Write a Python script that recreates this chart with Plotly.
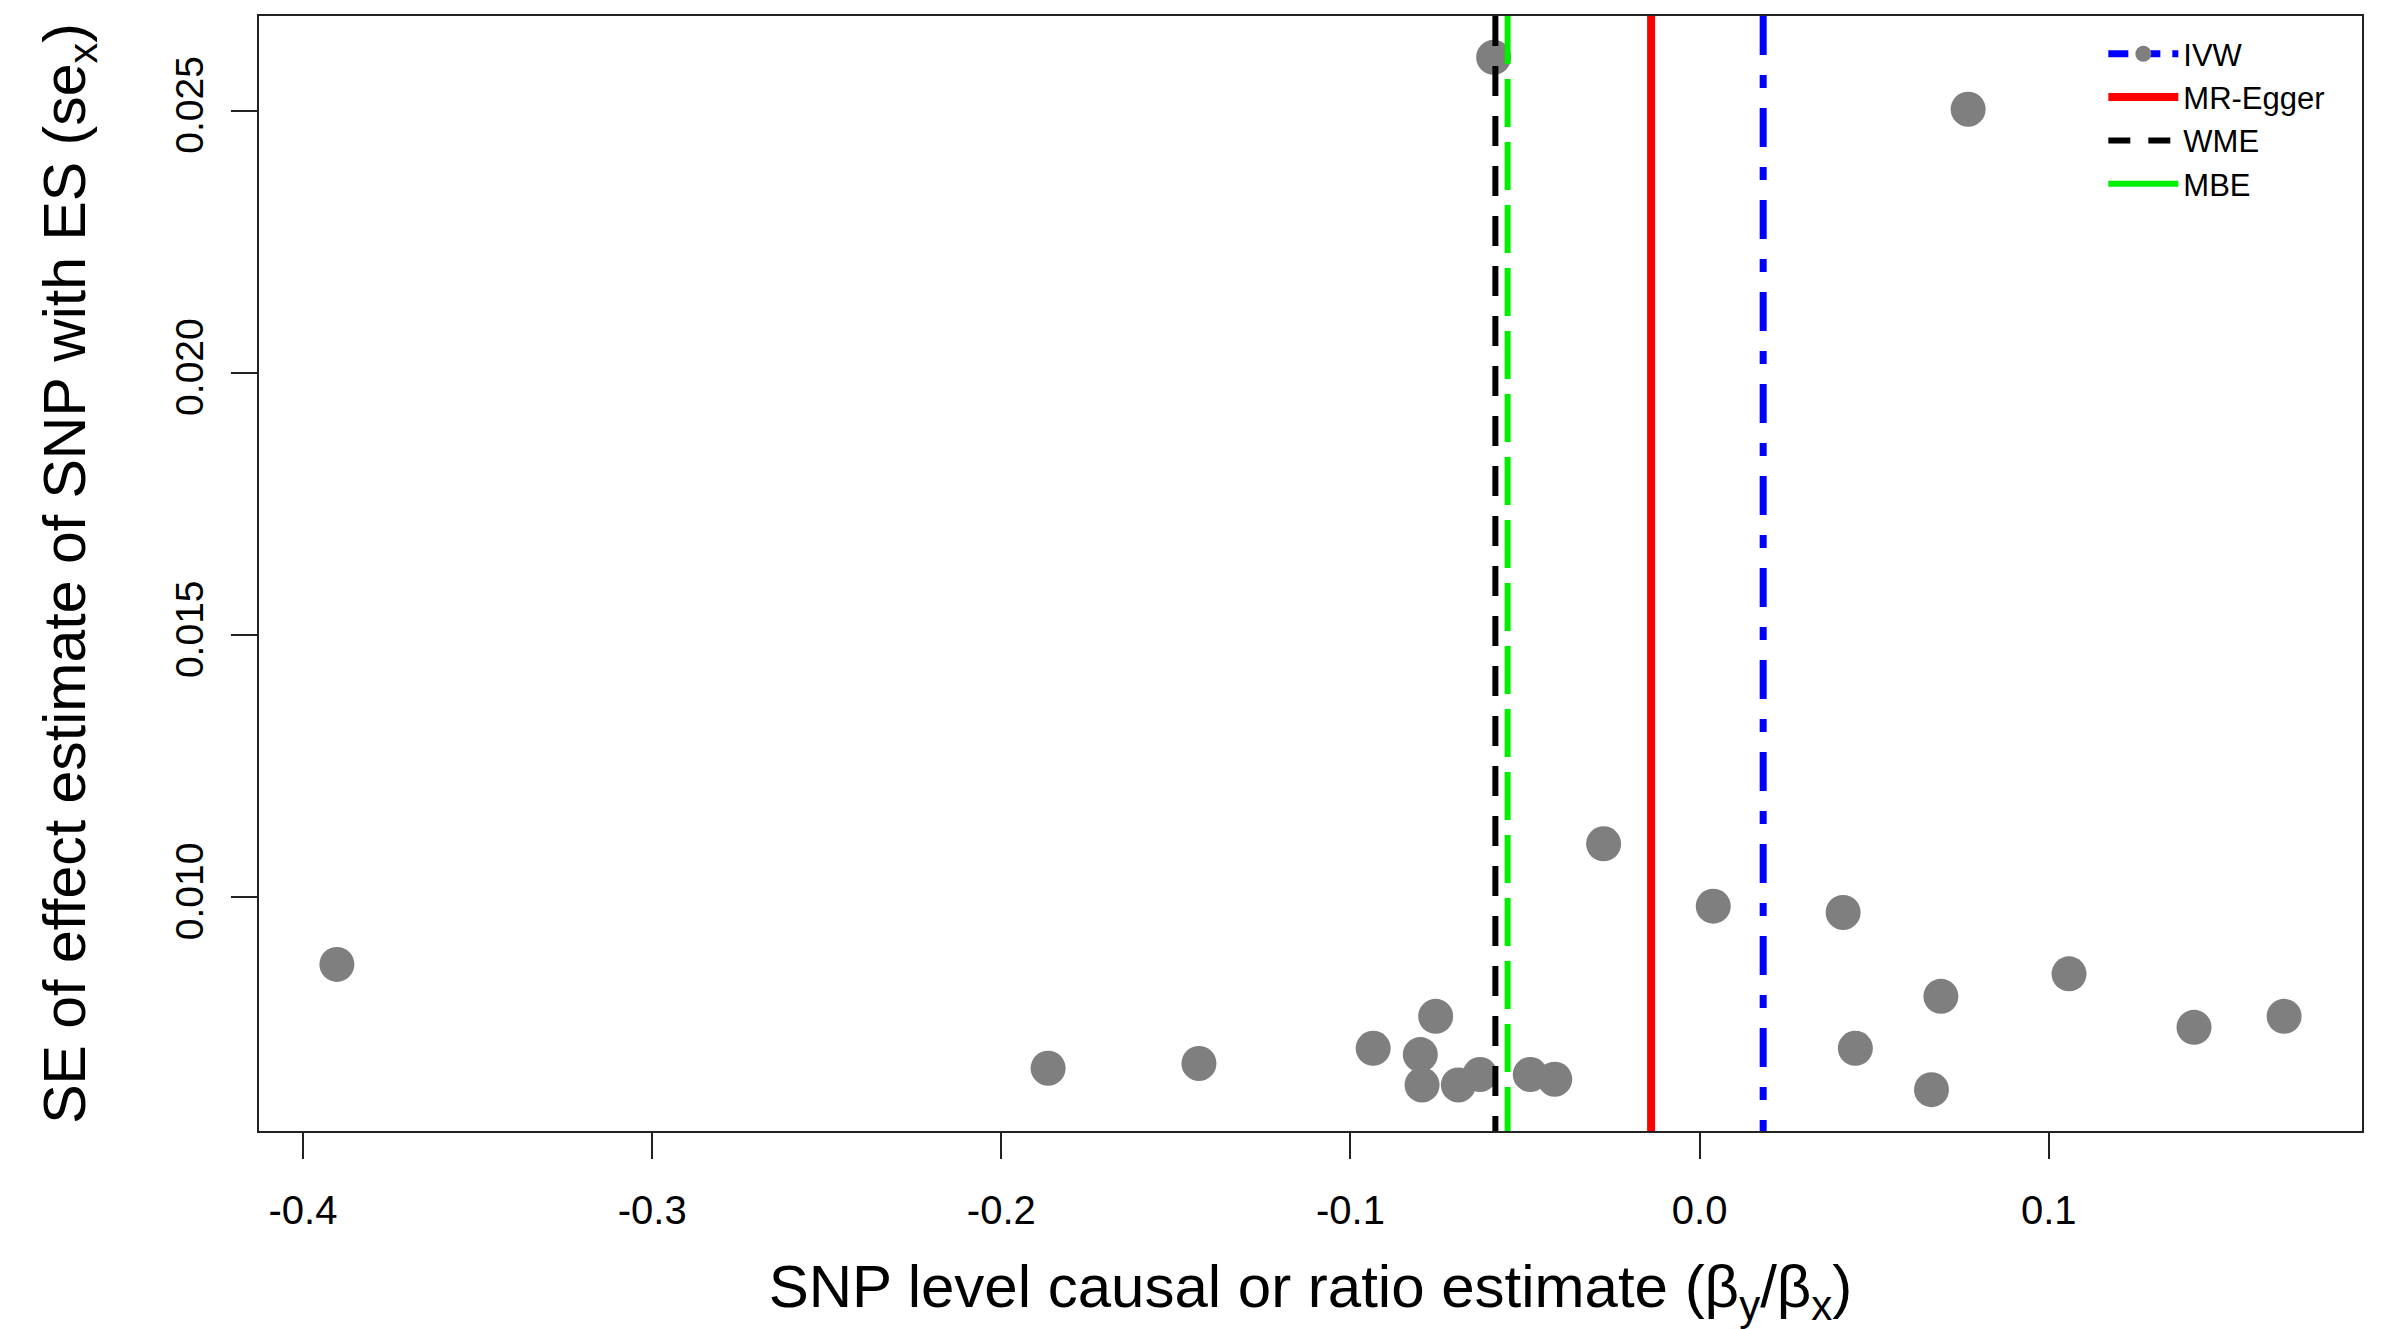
import plotly.graph_objects as go

# ---- data ----
ratio_est = [-0.3903, -0.1866, -0.1434, -0.0935, -0.0800, -0.0756, -0.0795, -0.0691,
             -0.0629, -0.0590, -0.0485, -0.0415, -0.0275, 0.0039, 0.0411, 0.0446,
             0.0664, 0.0691, 0.0769, 0.1058, 0.1416, 0.1674]
se_x = [0.00872, 0.00674, 0.00683, 0.00712, 0.00700, 0.00773, 0.00642, 0.00642,
        0.00662, 0.02602, 0.00662, 0.00653, 0.01102, 0.00983, 0.00971, 0.00712,
        0.00633, 0.00811, 0.02503, 0.00854, 0.00752, 0.00773]

method_names = ["IVW", "MR-Egger", "WME", "MBE"]
method_estimates = [0.0182, -0.0139, -0.0585, -0.0550]

x_tick_vals = [-0.4, -0.3, -0.2, -0.1, 0.0, 0.1]
x_tick_text = ["-0.4", "-0.3", "-0.2", "-0.1", "0.0", "0.1"]
y_tick_vals = [0.010, 0.015, 0.020, 0.025]
y_tick_text = ["0.010", "0.015", "0.020", "0.025"]

# ---- styles ----
method_colors = {"IVW": "#0000FF", "MR-Egger": "#FF0000", "WME": "#000000", "MBE": "#00EE00"}
method_dash = {"IVW": "39px,20px,13px,20px", "MR-Egger": "solid", "WME": "30px,20px", "MBE": "48px,15px"}
method_width = {"IVW": 7, "MR-Egger": 8, "WME": 6, "MBE": 6}
legend_dash = {"IVW": "20px,12px", "MR-Egger": "solid", "WME": "22px,18px", "MBE": "solid"}
FONT = "Liberation Sans, Arial, Helvetica, sans-serif"

# R-style axis ranges (4% expansion)
def rrange(v):
    lo, hi = min(v), max(v)
    d = (hi - lo) * 0.04
    return [lo - d, hi + d]

xr = rrange(ratio_est)
yr = rrange(se_x)

fig = go.Figure()

fig.add_trace(go.Scatter(
    x=ratio_est, y=se_x, mode="markers",
    marker=dict(color="#7F7F7F", size=35, line=dict(width=0)),
    showlegend=False, hoverinfo="x+y"))

for name, est in zip(method_names, method_estimates):
    fig.add_trace(go.Scatter(
        x=[est, est], y=[yr[1], yr[0]], mode="lines",
        line=dict(color=method_colors[name], width=method_width[name], dash=method_dash[name]),
        showlegend=False, name=name))

# legend entries
for name in method_names:
    if name == "IVW":
        fig.add_trace(go.Scatter(
            x=[None], y=[None], mode="lines+markers", name=name,
            marker=dict(color="#7F7F7F", size=36),
            line=dict(color=method_colors[name], width=method_width[name], dash=legend_dash[name])))
    else:
        fig.add_trace(go.Scatter(
            x=[None], y=[None], mode="lines", name=name,
            line=dict(color=method_colors[name], width=method_width[name], dash=legend_dash[name])))

fig.update_layout(
    width=2393, height=1329,
    margin=dict(l=259, r=31, t=16, b=198, autoexpand=False),
    paper_bgcolor="white", plot_bgcolor="white",
    font=dict(family=FONT, color="black"),
    showlegend=True,
    legend=dict(x=0.877, y=0.99, xanchor="left", yanchor="top",
                bgcolor="rgba(0,0,0,0)", borderwidth=0,
                font=dict(size=31, family=FONT), itemwidth=70,
                tracegroupgap=0),
    xaxis=dict(range=xr, tickvals=x_tick_vals, ticktext=x_tick_text,
               showgrid=False, zeroline=False, showline=True, mirror=True,
               linecolor="#222222", linewidth=2,
               ticks="outside", ticklen=26, tickwidth=2, tickcolor="#222222",
               tickfont=dict(size=40, family=FONT), ticklabelstandoff=17,
               title=dict(text="SNP level causal or ratio estimate (β<sub>y</sub>/β<sub>x</sub>)",
                          font=dict(size=60, family=FONT), standoff=34),
               automargin=False),
    yaxis=dict(range=yr, tickvals=y_tick_vals, ticktext=y_tick_text,
               showgrid=False, zeroline=False, showline=True, mirror=True,
               linecolor="#222222", linewidth=2,
               ticks="outside", ticklen=26, tickwidth=2, tickcolor="#222222",
               tickangle=-90,
               tickfont=dict(size=39, family=FONT), ticklabelstandoff=12,
               title=dict(text="SE of effect estimate of SNP with ES (se<sub>x</sub>)",
                          font=dict(size=59, family=FONT), standoff=64),
               automargin=False),
)

fig.write_html("out.html", config={"displayModeBar": False},
               post_script="document.body.style.margin='0';document.body.style.overflow='hidden';")
